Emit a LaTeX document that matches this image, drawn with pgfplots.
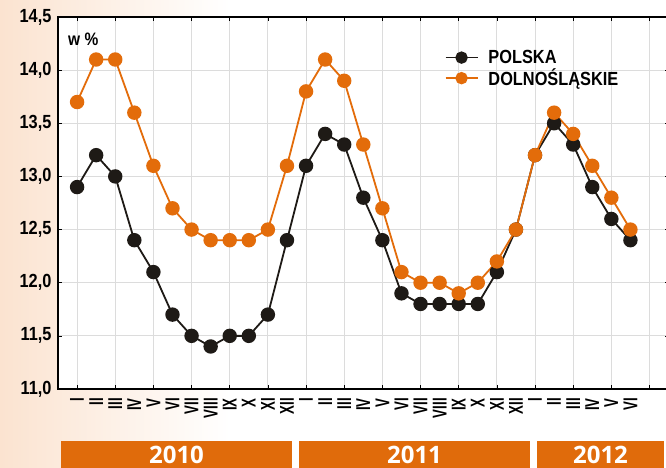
\documentclass[border=0pt]{standalone}
\usepackage{fontspec}
\setmainfont{Liberation Sans}[FakeStretch=0.86]
\newfontfamily\narrowfont{Liberation Sans}[FakeStretch=0.66]
\newfontfamily\yearfont{Open Sans}
\usepackage{pgfplots}
\pgfplotsset{compat=1.18}
\definecolor{orng}{HTML}{E36C0A}
\definecolor{barc}{HTML}{E06B0B}
\definecolor{blk}{HTML}{1E1A16}
\definecolor{peach}{HTML}{FBE3D0}
\definecolor{gridc}{HTML}{DCDCDC}
\begin{document}
\begin{tikzpicture}[x=1pt,y=1pt]
\useasboundingbox (0,0) rectangle (666,468);
\shade[left color=peach, right color=white] (0,0) rectangle (230,468);
\fill[barc] (61,0) rectangle (292,27);
\fill[barc] (299,0) rectangle (530,27);
\fill[barc] (537,0) rectangle (664,27);
\node[anchor=base, text=white, font=\yearfont\bfseries\fontsize{24}{24}\selectfont, inner sep=0pt] at (176.5,5) {2010};
\node[anchor=base, text=white, font=\yearfont\bfseries\fontsize{24}{24}\selectfont, inner sep=0pt] at (414.5,5) {2011};
\node[anchor=base, text=white, font=\yearfont\bfseries\fontsize{24}{24}\selectfont, inner sep=0pt] at (600.5,5) {2012};
\begin{axis}[
  at={(58pt,79pt)}, anchor=south west, scale only axis,
  width=610.6pt, height=372pt,
  xmin=0, xmax=32, ymin=11, ymax=14.5,
  axis background/.style={fill=white},
  axis line style={line width=1.2pt, black},
  major tick length=4pt,
  tick style={black, line width=0.6pt},
  xtick={1,3,...,31}, xticklabels={},
  xmajorgrids, ymajorgrids,
  major grid style={gridc, line width=0.9pt},
  ytick={11,11.5,12,12.5,13,13.5,14,14.5},
  /pgf/number format/.cd, fixed, fixed zerofill, precision=1, use comma, assume math mode=true,
  /pgfplots/.cd,
  yticklabel style={font=\bfseries\fontsize{19}{19}\selectfont, xshift=-3pt},
  extra x ticks={1,2,...,30},
  extra x tick labels={I,II,III,IV,V,VI,VII,VIII,IX,X,XI,XII,I,II,III,IV,V,VI,VII,VIII,IX,X,XI,XII,I,II,III,IV,V,VI},
  extra x tick style={grid=none, major tick length=0pt,
    tick label style={rotate=90, anchor=east, font=\narrowfont\bfseries\fontsize{20}{20}\selectfont, inner xsep=9pt, inner ysep=0pt}},
  legend style={draw=none, fill=none, at={(0.628,0.922)}, anchor=north west,
    font=\bfseries\fontsize{19}{19}\selectfont, row sep=0pt, column sep=8pt, legend cell align=left},
  legend image code/.code={\draw[mark repeat=2,mark phase=2, mark size=5.3pt] plot coordinates {(0pt,0pt) (16pt,0pt) (32pt,0pt)};},
]
\addplot[blk, line width=1.8pt, mark=*, mark size=6.3pt] coordinates {
(1,12.9)(2,13.2)(3,13.0)(4,12.4)(5,12.1)(6,11.7)(7,11.5)(8,11.4)(9,11.5)(10,11.5)(11,11.7)(12,12.4)
(13,13.1)(14,13.4)(15,13.3)(16,12.8)(17,12.4)(18,11.9)(19,11.8)(20,11.8)(21,11.8)(22,11.8)(23,12.1)(24,12.5)
(25,13.2)(26,13.5)(27,13.3)(28,12.9)(29,12.6)(30,12.4)};
\addlegendentry{POLSKA}
\addplot[orng, line width=1.8pt, mark=*, mark size=6.3pt] coordinates {
(1,13.7)(2,14.1)(3,14.1)(4,13.6)(5,13.1)(6,12.7)(7,12.5)(8,12.4)(9,12.4)(10,12.4)(11,12.5)(12,13.1)
(13,13.8)(14,14.1)(15,13.9)(16,13.3)(17,12.7)(18,12.1)(19,12.0)(20,12.0)(21,11.9)(22,12.0)(23,12.2)(24,12.5)
(25,13.2)(26,13.6)(27,13.4)(28,13.1)(29,12.8)(30,12.5)};
\addlegendentry{DOLNOŚLĄSKIE}
\end{axis}
\node[anchor=west, font=\bfseries\fontsize{18}{18}\selectfont, inner sep=0pt] at (68,429) {w \%};
\end{tikzpicture}
\end{document}
